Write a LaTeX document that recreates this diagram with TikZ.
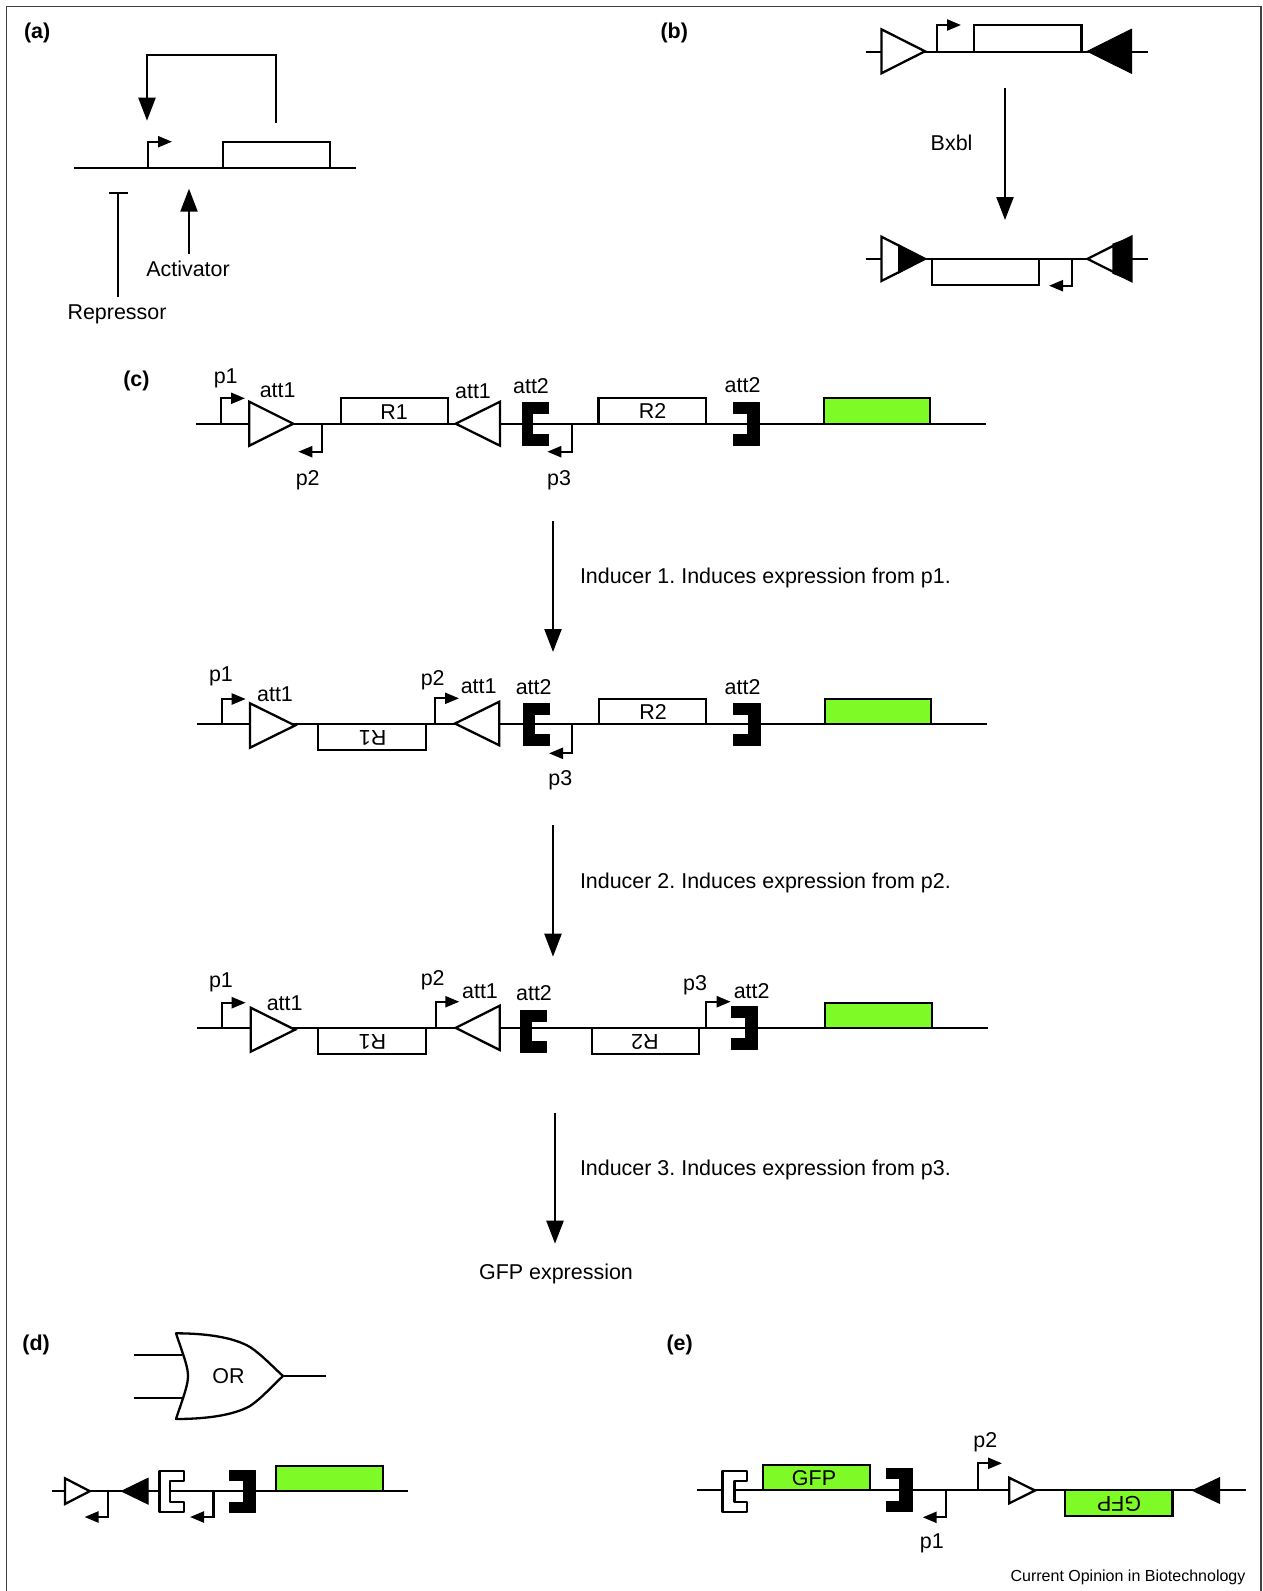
\documentclass[tikz,border=0pt]{standalone}
\usepackage{fontspec}
\setmainfont{Liberation Sans}
\usetikzlibrary{arrows.meta}
\definecolor{gfpgreen}{RGB}{126,250,38}
\frenchspacing
\tikzset{
  x=1pt,y=-1pt,
  every node/.style={inner sep=0pt,outer sep=0pt,font=\fontsize{21.45}{25}\selectfont},
  dna/.style={line width=2.3pt,black},
  bigarrow/.style={line width=2.3pt,-{Triangle[length=23pt,width=17pt]}},
  promoter/.style={line width=2.3pt,-{Triangle[length=14pt,width=11pt]}},
  genebox/.style={line width=2.3pt,draw=black,fill=white},
  greenbox/.style={line width=2.3pt,draw=black,fill=gfpgreen},
  whitetri/.style={line width=2.3pt,draw=black,fill=white,line join=miter},
  blacktri/.style={line width=1pt,draw=black,fill=black,line join=miter},
  blackbrk/.style={line width=1pt,draw=black,fill=black,line join=round},
  whitebrk/.style={line width=2.3pt,draw=black,fill=white,line join=round},
  panel/.style={font=\fontsize{21.45}{25}\selectfont\bfseries,anchor=west},
  flipped/.style={rotate=180}
}
% triangle: base x, tip x, top y, bottom y
\newcommand{\tria}[5]{\draw[#1] (#2,#4) -- (#3,{(#4+#5)/2}) -- (#2,#5) -- cycle;}
% bracket: style, spine outer x, spine inner x, arm tip x, top y, bottom y, arm thickness
\newcommand{\brkt}[7]{\draw[#1] (#2,#5) -- (#4,#5) -- (#4,{#5+#7}) -- (#3,{#5+#7}) -- (#3,{#6-#7}) -- (#4,{#6-#7}) -- (#4,#6) -- (#2,#6) -- cycle;}
% promoter: x, line y, end y, tip x
\newcommand{\prom}[4]{\draw[promoter] (#1,#2) -- (#1,#3) -- (#4,#3);}
\begin{document}
\begin{tikzpicture}
\useasboundingbox (0,0) rectangle (1263,1591);
\fill[white] (0,0) rectangle (1263,1591);
\draw[line width=1.3pt,black!75] (6.5,1591) -- (6.5,6.5) -- (1261,6.5) -- (1261,1591);

% ---------- (a)
\node[panel] (la) at (24,33) {(a)};
\draw[dna] (74,167.7) -- (356,167.7);
\prom{148}{167.7}{141.7}{172}
\draw[genebox] (223,141.7) rectangle (330,167.7);
\draw[bigarrow] (276,122.7) -- (276,55.3) -- (147,55.3) -- (147,120.7);
\draw[line width=2.3pt] (118,296.7) -- (118,192.7);
\draw[line width=2.3pt] (109,192.7) -- (128,192.7);
\draw[bigarrow] (189,254) -- (189,188.7);
\node (activator) at (188,268.5) {Activator};
\node (repressor) at (117,314) {Repressor};

% ---------- (b)
\node[panel] (lb) at (660.6,33) {(b)};
\draw[dna] (865.5,51.7) -- (1147.6,51.7);
\tria{whitetri}{881.4}{925}{29.3}{73.3}
\prom{937}{51.7}{25}{961}
\draw[genebox] (974,25) rectangle (1081.5,51.7);
\tria{blacktri}{1131.5}{1087.4}{29.3}{73.3}
\draw[bigarrow] (1005,88) -- (1005,220);
\node (bxbl) at (951.6,143) {Bxbl};

\draw[dna] (865.5,258.7) -- (1147.6,258.7);
\tria{whitetri}{881.4}{925}{236.7}{281}
\fill[black] (898,244) -- (925,258.7) -- (898,274) -- cycle;
\draw[genebox] (932,258.7) rectangle (1039,285);
\prom{1072}{258.7}{285.7}{1049}
\tria{whitetri}{1131.5}{1087.4}{236.7}{281}
\fill[black] (1112.4,243.7) -- (1131.5,236.7) -- (1131.5,281) -- (1112.4,273.7) -- cycle;

% ---------- (c) row 1
\node[panel] (lc) at (123.3,381) {(c)};
\draw[dna] (196,423.7) -- (986,423.7);
\prom{221}{423.7}{398.3}{245}
\tria{whitetri}{249.3}{293.3}{401.7}{445.7}
\prom{322}{423.7}{451.7}{298.3}
\draw[genebox] (340.7,398.3) rectangle (448.3,423.7);
\tria{whitetri}{500}{455.7}{401.7}{445.7}
\brkt{blackbrk}{522.7}{532.7}{548.3}{402.3}{445.7}{11}
\prom{571.7}{423.7}{451.7}{547.3}
\draw[genebox] (598.5,398.3) rectangle (706,423.7);
\brkt{blackbrk}{759}{747.5}{733.5}{402.3}{445.7}{11}
\draw[greenbox] (823.7,398.3) rectangle (930.3,423.7);
\node (c1p1) at (225.7,378.7) {p1};
\node (c1a1) at (277.7,390.7) {att1};
\node (c1r1) at (394,412) {R1};
\node (c1a1b) at (473,391) {att1};
\node (c1a2) at (531,386) {att2};
\node (c1p2) at (307.7,480.5) {p2};
\node (c1p3) at (559,480.5) {p3};
\node (c1r2) at (652.5,411.5) {R2};
\node (c1a2b) at (742.6,385.5) {att2};

\draw[bigarrow] (553,521.4) -- (553,652);
\node[anchor=west] (i1) at (580,577.5) {Inducer 1. Induces expression from p1.};

% ---------- (c) row 2
\draw[dna] (196.7,724) -- (987,724);
\prom{221.7}{724}{699}{245.7}
\tria{whitetri}{250}{295}{703.3}{747.7}
\draw[genebox] (318,724) rectangle (425.7,750);
\prom{435.3}{724}{698.3}{459}
\tria{whitetri}{499.3}{455}{701.7}{745.3}
\brkt{blackbrk}{523.3}{534}{549.3}{703.3}{745.7}{11}
\prom{572.3}{724}{753.3}{549}
\draw[genebox] (599.3,699) rectangle (706,724);
\brkt{blackbrk}{760}{748.5}{733.5}{703.3}{745.7}{11}
\draw[greenbox] (824.8,699) rectangle (931.3,724);
\node (c2p1) at (221,676) {p1};
\node (c2a1) at (275,694) {att1};
\node[flipped] (c2r1) at (372.7,737.5) {R1};
\node (c2p2) at (432.7,680.5) {p2};
\node (c2a1b) at (478.7,686) {att1};
\node (c2a2) at (533.7,687.5) {att2};
\node (c2p3) at (560.3,780.5) {p3};
\node (c2r2) at (653,712.3) {R2};
\node (c2a2b) at (742.6,686.8) {att2};

\draw[bigarrow] (553,825) -- (553,956.7);
\node[anchor=west] (i2) at (580,882.8) {Inducer 2. Induces expression from p2.};

% ---------- (c) row 3
\draw[dna] (197.3,1028.3) -- (987.7,1028.3);
\prom{222.3}{1028.3}{1002.7}{245.7}
\tria{whitetri}{250.7}{295}{1007.7}{1051.7}
\draw[genebox] (318.3,1028.3) rectangle (425.7,1054);
\prom{435.7}{1028.3}{1001.7}{459.3}
\tria{whitetri}{499.7}{455.7}{1005.7}{1050}
\brkt{blackbrk}{520.7}{531.7}{546.3}{1010}{1052}{11}
\draw[genebox] (591.7,1028.3) rectangle (699,1054);
\prom{706.3}{1028.3}{1001.7}{730.7}
\brkt{blackbrk}{757}{745}{731.7}{1006.7}{1049.3}{11}
\draw[greenbox] (825,1003.3) rectangle (932,1028.3);
\node (c3p1) at (221,982) {p1};
\node (c3a1) at (284.7,1003) {att1};
\node[flipped] (c3r1) at (372.3,1041.5) {R1};
\node (c3p2) at (432.7,980.5) {p2};
\node (c3a1b) at (480,991) {att1};
\node (c3a2) at (534,993.3) {att2};
\node[flipped] (c3r2) at (645,1041.5) {R2};
\node (c3p3) at (695,985.5) {p3};
\node (c3a2b) at (751.7,991) {att2};

\draw[bigarrow] (555,1113) -- (555,1243.7);
\node[anchor=west] (i3) at (580,1170) {Inducer 3. Induces expression from p3.};
\node (gfpx) at (556,1274) {GFP expression};

% ---------- (d)
\node[panel] (ld) at (22.4,1345) {(d)};
\draw[line width=2.3pt] (134,1355) -- (182,1355);
\draw[line width=2.3pt] (134,1398) -- (182,1398);
\draw[line width=2.3pt] (283,1376) -- (326.4,1376);
\draw[line width=2.3pt,fill=white,line join=round] (176,1333.3)
  .. controls (205,1333.3) and (233,1337) .. (250,1347)
  .. controls (262,1355) and (272,1366) .. (283,1376)
  .. controls (272,1386) and (262,1398) .. (250,1406)
  .. controls (233,1415.5) and (205,1419) .. (176,1419)
  .. controls (184,1395) and (188,1385) .. (188,1376)
  .. controls (188,1367) and (184,1357) .. (176,1333.3) -- cycle;
\node (orl) at (228.5,1376.3) {OR};

\draw[dna] (51.8,1491.3) -- (408,1491.3);
\tria{whitetri}{65}{89.8}{1478.3}{1504}
\prom{107.7}{1491.3}{1517}{84.5}
\tria{blacktri}{148}{121.6}{1478.3}{1504}
\brkt{whitebrk}{159.5}{170}{184}{1470.7}{1512}{10}
\prom{213.4}{1491.3}{1517}{190}
\brkt{blackbrk}{255.4}{243}{229.7}{1470.3}{1512.3}{10}
\draw[greenbox] (276,1465.7) rectangle (382.7,1491.3);

% ---------- (e)
\node[panel] (le) at (666.6,1345) {(e)};
\draw[dna] (696.8,1490.3) -- (1246,1490.3);
\brkt{whitebrk}{722.6}{734.5}{747.2}{1471}{1512.3}{10}
\draw[greenbox] (763,1465) rectangle (870,1490.3);
\brkt{blackbrk}{912.3}{899.2}{886.5}{1468.7}{1511}{10}
\prom{945.7}{1490.3}{1517.3}{922.7}
\prom{977.8}{1490.3}{1463.3}{1002}
\tria{whitetri}{1009.2}{1035}{1477.7}{1503.3}
\draw[greenbox] (1065.2,1490.3) rectangle (1172.4,1516);
\tria{blacktri}{1219.6}{1192.6}{1477.7}{1503.3}
\node (egfp) at (814,1478.3) {GFP};
\node[flipped] (egfp2) at (1119,1503.7) {GFP};
\node (ep2) at (985.4,1442) {p2};
\node (ep1) at (931.8,1543) {p1};
\node[anchor=east,font=\fontsize{16}{19}\selectfont] (credit) at (1245.4,1577.5) {Current Opinion in Biotechnology};
\end{tikzpicture}
\end{document}
